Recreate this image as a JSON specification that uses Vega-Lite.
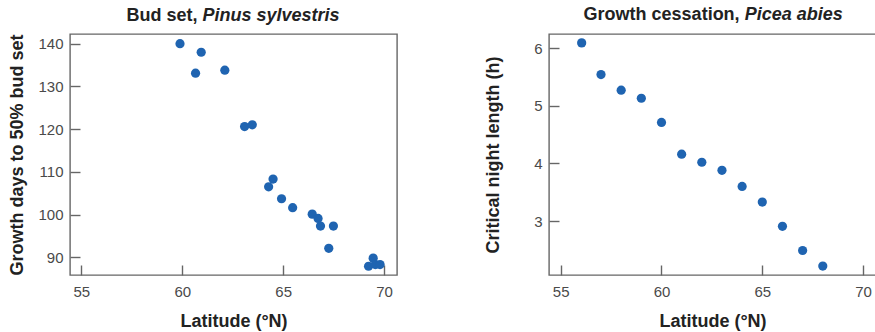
{
  "$schema": "https://vega.github.io/schema/vega-lite/v6.json",
  "padding": {"left": 8, "top": 4, "right": 0, "bottom": 0},
  "background": "white",
  "spacing": 85,
  "config": {
    "view": {"stroke": "#666666", "strokeWidth": 1.4},
    "axis": {
      "labelFont": "Liberation Sans", "labelFontSize": 15, "labelColor": "#4a4a4a",
      "titleFont": "Liberation Sans", "titleFontSize": 18, "titleFontWeight": "bold", "titleColor": "#222222",
      "tickColor": "#666666", "tickWidth": 1.4, "tickSize": -10,
      "domain": false, "grid": false
    },
    "axisX": {"labelPadding": 19, "titlePadding": 13},
    "axisY": {"labelPadding": 17, "titlePadding": 11}
  },
  "hconcat": [
    {
      "width": 327, "height": 241,
      "layer": [
        {
          "data": {"values": [
            {"lat": 59.89, "days": 140.0},
            {"lat": 60.94, "days": 138.0},
            {"lat": 60.66, "days": 133.1},
            {"lat": 62.11, "days": 133.8},
            {"lat": 63.09, "days": 120.6},
            {"lat": 63.47, "days": 121.0},
            {"lat": 64.50, "days": 108.3},
            {"lat": 64.28, "days": 106.5},
            {"lat": 64.92, "days": 103.7},
            {"lat": 65.47, "days": 101.6},
            {"lat": 66.44, "days": 100.1},
            {"lat": 66.73, "days": 99.1},
            {"lat": 66.85, "days": 97.3},
            {"lat": 67.49, "days": 97.3},
            {"lat": 67.26, "days": 92.1},
            {"lat": 69.23, "days": 87.9},
            {"lat": 69.46, "days": 89.8},
            {"lat": 69.57, "days": 88.3},
            {"lat": 69.80, "days": 88.3}
          ]},
          "mark": {"type": "point", "filled": true, "size": 85, "color": "#1f64b1", "opacity": 1},
          "encoding": {
            "x": {"field": "lat", "type": "quantitative",
                  "scale": {"domain": [54.44, 70.64], "nice": false, "zero": false},
                  "axis": {"title": "Latitude (°N)", "values": [55, 60, 65, 70], "format": "d"}},
            "y": {"field": "days", "type": "quantitative",
                  "scale": {"domain": [85.85, 142.27], "nice": false, "zero": false},
                  "axis": {"title": "Growth days to 50% bud set", "values": [90, 100, 110, 120, 130, 140], "format": "d"}}
          }
        },
        {
          "data": {"values": [{"part": "Bud set,"}]},
          "mark": {"type": "text", "align": "right", "baseline": "alphabetic", "dx": -2.5, "font": "Liberation Sans", "fontSize": 18, "fontWeight": "bold", "color": "#222222"},
          "encoding": {
            "x": {"datum": 60.88, "type": "quantitative"},
            "y": {"datum": 145.38, "type": "quantitative"},
            "text": {"field": "part"}
          }
        },
        {
          "data": {"values": [{"part": "Pinus sylvestris"}]},
          "mark": {"type": "text", "align": "left", "baseline": "alphabetic", "dx": 2.5, "font": "Liberation Sans", "fontSize": 18, "fontWeight": "bold", "fontStyle": "italic", "color": "#222222"},
          "encoding": {
            "x": {"datum": 60.88, "type": "quantitative"},
            "y": {"datum": 145.38, "type": "quantitative"},
            "text": {"field": "part"}
          }
        }
      ]
    },
    {
      "width": 327, "height": 241,
      "layer": [
        {
          "data": {"values": [
            {"lat": 56.04, "night": 6.09},
            {"lat": 57.0, "night": 5.54},
            {"lat": 58.0, "night": 5.27},
            {"lat": 59.0, "night": 5.13},
            {"lat": 60.0, "night": 4.71},
            {"lat": 61.0, "night": 4.16},
            {"lat": 62.0, "night": 4.02},
            {"lat": 63.0, "night": 3.88},
            {"lat": 64.0, "night": 3.60},
            {"lat": 65.0, "night": 3.33},
            {"lat": 66.0, "night": 2.91},
            {"lat": 67.0, "night": 2.49},
            {"lat": 68.0, "night": 2.22}
          ]},
          "mark": {"type": "point", "filled": true, "size": 85, "color": "#1f64b1", "opacity": 1},
          "encoding": {
            "x": {"field": "lat", "type": "quantitative",
                  "scale": {"domain": [54.42, 70.64], "nice": false, "zero": false},
                  "axis": {"title": "Latitude (°N)", "values": [55, 60, 65, 70], "format": "d"}},
            "y": {"field": "night", "type": "quantitative",
                  "scale": {"domain": [2.065, 6.244], "nice": false, "zero": false},
                  "axis": {"title": "Critical night length (h)", "values": [3, 4, 5, 6], "format": "d", "titlePadding": 31}}
          }
        },
        {
          "data": {"values": [{"part": "Growth cessation,"}]},
          "mark": {"type": "text", "align": "right", "baseline": "alphabetic", "dx": -2.5, "font": "Liberation Sans", "fontSize": 18, "fontWeight": "bold", "color": "#222222"},
          "encoding": {
            "x": {"datum": 64.0, "type": "quantitative"},
            "y": {"datum": 6.493, "type": "quantitative"},
            "text": {"field": "part"}
          }
        },
        {
          "data": {"values": [{"part": "Picea abies"}]},
          "mark": {"type": "text", "align": "left", "baseline": "alphabetic", "dx": 2.5, "font": "Liberation Sans", "fontSize": 18, "fontWeight": "bold", "fontStyle": "italic", "color": "#222222"},
          "encoding": {
            "x": {"datum": 64.0, "type": "quantitative"},
            "y": {"datum": 6.493, "type": "quantitative"},
            "text": {"field": "part"}
          }
        }
      ]
    }
  ]
}
